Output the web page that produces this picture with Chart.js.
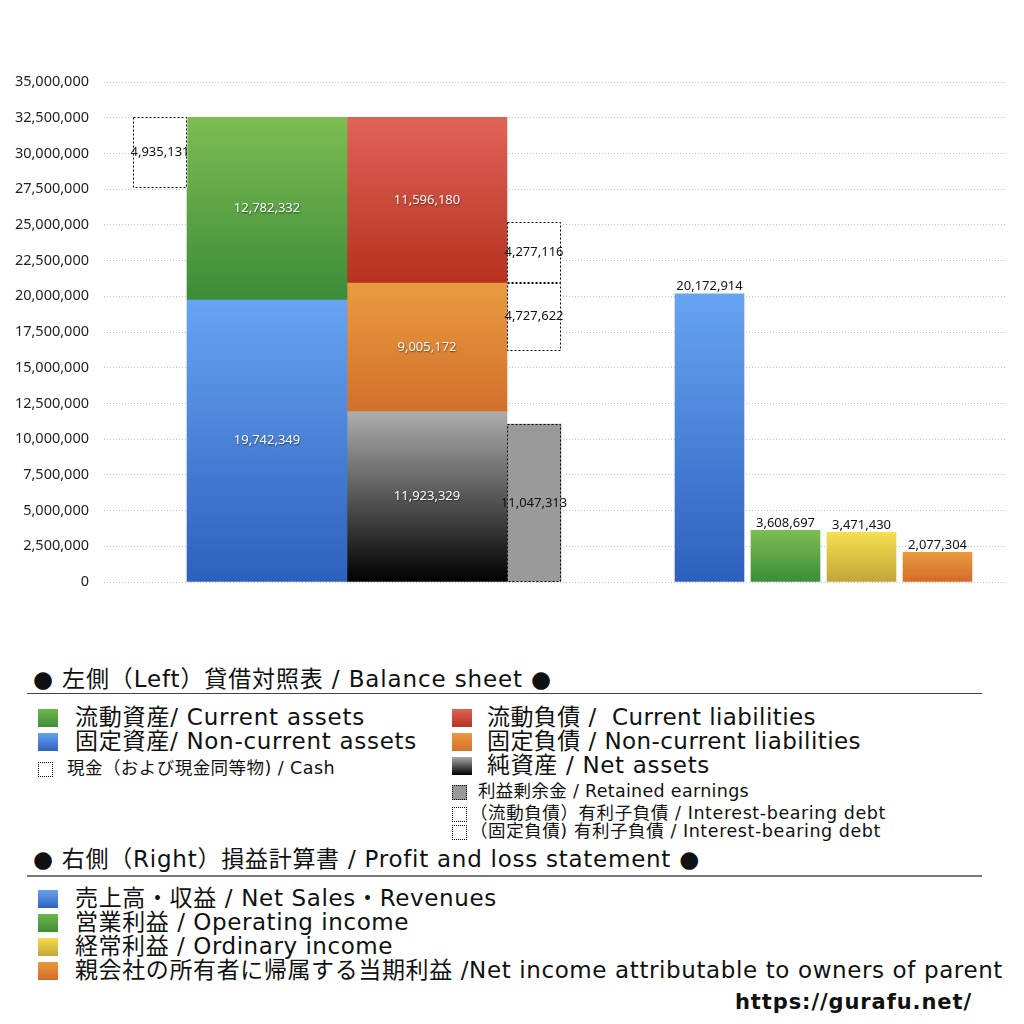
<!DOCTYPE html>
<html><head><meta charset="utf-8">
<script src="https://cdn.jsdelivr.net/npm/chart.js@4"></script>
<style>
html,body{margin:0;padding:0;background:#fff;}
body{width:1024px;height:1024px;position:relative;overflow:hidden;font-family:"DejaVu Sans","Noto Sans CJK JP",sans-serif;color:#111;}
#wrap{position:absolute;left:0;top:0;width:1024px;height:640px;}
.t{position:absolute;white-space:nowrap;line-height:1;}
.big{font-size:23px;height:23px;}
.small{font-size:17.5px;height:18px;}
.mk{position:absolute;width:20px;height:18px;}
.dm{position:absolute;width:13px;height:13px;border:1px dotted #000;background:#fff;}
.hr{position:absolute;left:27px;width:955px;height:0;}
</style></head>
<body>
<div id="wrap"><canvas id="c"></canvas></div>

<div class="t big" data-r="552" style="left:33px;top:668px;">● 左側（Left）貸借対照表 / Balance sheet ●</div>
<div class="hr" style="top:693px;border-top:1.5px solid #444;"></div>

<div class="mk" style="left:38px;top:709px;background:linear-gradient(#6fb54c,#3f8e3a);"></div>
<div class="t big" data-r="365" style="left:75px;top:706px;">流動資産/ Current assets</div>
<div class="mk" style="left:38px;top:733px;background:linear-gradient(#66a3f0,#2e62c0);"></div>
<div class="t big" data-r="417" style="left:75px;top:730px;">固定資産/ Non-current assets</div>
<div class="dm" style="left:38px;top:762px;"></div>
<div class="t small" data-r="335" style="left:67px;top:760px;">現金（および現金同等物) / Cash</div>

<div class="mk" style="left:452px;top:709px;background:linear-gradient(#de6257,#b8321f);"></div>
<div class="t big" data-r="816" style="left:487px;top:706px;">流動負債 /&nbsp; Current liabilities</div>
<div class="mk" style="left:452px;top:733px;background:linear-gradient(#e99a40,#d4702a);"></div>
<div class="t big" data-r="861" style="left:487px;top:730px;">固定負債 / Non-current liabilities</div>
<div class="mk" style="left:452px;top:757px;background:linear-gradient(#aaaaaa,#000000);"></div>
<div class="t big" data-r="710" style="left:487px;top:754px;">純資産 / Net assets</div>
<div class="dm" style="left:452px;top:785px;background:#999;"></div>
<div class="t small" data-r="749" style="left:478px;top:783px;">利益剰余金 / Retained earnings</div>
<div class="dm" style="left:452px;top:807px;"></div>
<div class="t small" data-r="886" style="left:470px;top:805px;">（流動負債）有利子負債 / Interest-bearing debt</div>
<div class="dm" style="left:452px;top:825px;"></div>
<div class="t small" data-r="881" style="left:470px;top:823px;">（固定負債) 有利子負債 / Interest-bearing debt</div>

<div class="t big" data-r="700" style="left:33px;top:848px;">● 右側（Right）損益計算書 / Profit and loss statement ●</div>
<div class="hr" style="top:875px;border-top:2px solid #777;"></div>

<div class="mk" style="left:38px;top:890px;background:linear-gradient(#66a3f0,#2e62c0);"></div>
<div class="t big" data-r="497" style="left:75px;top:887px;">売上高・収益 / Net Sales・Revenues</div>
<div class="mk" style="left:38px;top:914px;background:linear-gradient(#6fb54c,#3f8e3a);"></div>
<div class="t big" data-r="409" style="left:75px;top:911px;">営業利益 / Operating income</div>
<div class="mk" style="left:38px;top:938px;background:linear-gradient(#f3dc4c,#c4a63a);"></div>
<div class="t big" data-r="393" style="left:75px;top:935px;">経常利益 / Ordinary income</div>
<div class="mk" style="left:38px;top:962px;background:linear-gradient(#e89a3c,#d46a2a);"></div>
<div class="t big" data-r="1003" style="left:75px;top:959px;">親会社の所有者に帰属する当期利益 /Net income attributable to owners of parent</div>

<div class="t" data-r="972" style="left:735px;top:992px;font-size:21px;font-weight:bold;">https://gurafu.net/</div>

<script>
// ---- data ----
const bsAssetLabels = ['流動資産', '固定資産'];
const bsAssetValues = [12782332, 19742349];          // current, non-current
const bsCashValue = [4935131];
const bsClaimLabels = ['流動負債', '固定負債', '純資産'];
const bsClaimValues = [11596180, 9005172, 11923329];   // current liab, non-current liab, net assets
const bsRetainedEarnings = [11047313];
const bsDebtLabels = ['(流動負債) 有利子負債', '(固定負債) 有利子負債'];
const bsDebtValues = [4277116, 4727622];               // current, non-current interest-bearing debt
const plLabels = ['売上高・収益', '営業利益', '経常利益', '親会社の所有者に帰属する当期利益'];
const plValues = [20172914, 3608697, 3471430, 2077304];
const yMax = 35000000;
const yStep = 2500000;

// ---- fit legend text widths ----
function fitTexts() {
  document.querySelectorAll('.t[data-r]').forEach((el) => {
    el.style.letterSpacing = '0px';
    const left = parseFloat(el.style.left);
    const w = el.getBoundingClientRect().width;
    const n = [...el.textContent].length;
    const need = parseFloat(el.dataset.r) - left;
    el.style.letterSpacing = ((need - w) / n).toFixed(3) + 'px';
  });
}
fitTexts();
if (document.fonts && document.fonts.ready) document.fonts.ready.then(fitTexts);

// ---- layout (hidden linear x axis, units = px from plot left) ----
const COL = {cash: 56, assets: 163, claims: 323, debt: 430, pl: [605.5, 681.5, 757.5, 833.5]};
const W = {narrow: 54, wide: 160, pl: 69};
const FONT = '"Noto Sans","Noto Sans CJK JP",sans-serif';

function grad(c1, c2) {
  return (context) => {
    const chart = context.chart;
    const {ctx, chartArea, scales} = chart;
    if (!chartArea || !context.raw) return c2;
    const yS = scales.y;
    const top = yS.getPixelForValue(context.raw.y[1]);
    const bot = yS.getPixelForValue(context.raw.y[0]);
    const g = ctx.createLinearGradient(0, top, 0, bot);
    g.addColorStop(0, c1); g.addColorStop(1, c2);
    return g;
  };
}
const G = {
  blue: grad('#67a4f2', '#2d60bd'),
  green: grad('#7dbd52', '#3c8c39'),
  red: grad('#df6458', '#b7311e'),
  orange: grad('#e99b40', '#d2702b'),
  black: grad('#adadad', '#000000'),
  yellow: grad('#f5e04e', '#c3a43a'),
  orange2: grad('#e99b3e', '#d36b2a')
};
const plFills = [G.blue, G.green, G.yellow, G.orange2];

const [ca, nca] = bsAssetValues;
const [cl, ncl, na] = bsClaimValues;
const [cDebt, ncDebt] = bsDebtValues;
const assetsTop = nca + ca;
const nclTop = na + ncl;

function ds(label, x, lo, v, color, thick, kind, extra) {
  return Object.assign({
    label, data: [{x, y: [lo, lo + v], v}], backgroundColor: color,
    barThickness: thick, borderWidth: 0, stack: 'all', kind
  }, extra || {});
}

const datasets = [
  ds('現金', COL.cash, assetsTop - bsCashValue[0], bsCashValue[0], '#ffffff', W.narrow, 'dark', {dotted: true}),
  ds(bsAssetLabels[1], COL.assets, 0, nca, G.blue, W.wide, 'inside'),
  ds(bsAssetLabels[0], COL.assets, nca, ca, G.green, W.wide, 'inside'),
  ds(bsClaimLabels[2], COL.claims, 0, na, G.black, W.wide, 'inside'),
  ds(bsClaimLabels[1], COL.claims, na, ncl, G.orange, W.wide, 'inside'),
  ds(bsClaimLabels[0], COL.claims, nclTop, cl, G.red, W.wide, 'inside'),
  ds('利益剰余金', COL.debt, 0, bsRetainedEarnings[0], '#9a9a9a', W.narrow, 'dark', {dotted: true}),
  ds(bsDebtLabels[1], COL.debt, nclTop - ncDebt, ncDebt, '#ffffff', W.narrow, 'dark', {dotted: true}),
  ds(bsDebtLabels[0], COL.debt, nclTop, cDebt, '#ffffff', W.narrow, 'dark', {dotted: true}),
  {
    label: 'PL', stack: 'all', kind: 'above', barThickness: W.pl, borderWidth: 0,
    data: plValues.map((v, i) => ({x: COL.pl[i], y: [0, v], v, name: plLabels[i]})),
    backgroundColor: (c) => plFills[c.dataIndex] ? plFills[c.dataIndex](c) : '#888'
  }
];

const labelPlugin = {
  id: 'valueLabels',
  afterDatasetsDraw(chart) {
    const ctx = chart.ctx;
    chart.data.datasets.forEach((d, i) => {
      if (!d.dotted) return;
      chart.getDatasetMeta(i).data.forEach((el) => {
        const {x, y, base, width} = el.getProps(['x', 'y', 'base', 'width'], true);
        const top = Math.round(Math.min(y, base)), bot = Math.round(Math.max(y, base));
        const l = Math.round(x - width / 2), r = Math.round(x + width / 2);
        ctx.save();
        ctx.setLineDash([2, 2]);
        ctx.strokeStyle = '#000';
        ctx.lineWidth = 1;
        ctx.strokeRect(l + 0.5, top + 0.5, r - l - 1, bot - top - 1);
        ctx.restore();
      });
    });
    chart.data.datasets.forEach((d, i) => {
      chart.getDatasetMeta(i).data.forEach((el, j) => {
        const {x, y, base} = el.getProps(['x', 'y', 'base'], true);
        const top = Math.min(y, base), bot = Math.max(y, base);
        const txt = d.data[j].v.toLocaleString('en-US');
        ctx.save();
        ctx.font = '13px ' + FONT;
        ctx.textAlign = 'center';
        if (d.kind === 'inside') {
          ctx.textBaseline = 'middle';
          ctx.fillStyle = '#ffffff';
          ctx.shadowColor = 'rgba(0,0,0,0.55)';
          ctx.shadowBlur = 1.5; ctx.shadowOffsetX = 0.5; ctx.shadowOffsetY = 1;
          ctx.fillText(txt, x, (top + bot) / 2);
        } else if (d.kind === 'dark') {
          ctx.textBaseline = 'middle';
          ctx.fillStyle = '#111';
          ctx.fillText(txt, x, (top + bot) / 2);
        } else {
          ctx.textBaseline = 'bottom';
          ctx.fillStyle = '#111';
          ctx.fillText(txt, x, top - 1);
        }
        ctx.restore();
      });
    });
  }
};

new Chart(document.getElementById('c'), {
  type: 'bar',
  data: {datasets},
  plugins: [labelPlugin],
  options: {
    responsive: true, maintainAspectRatio: false, animation: false,
    layout: {padding: {left: 0, right: 19, top: 82, bottom: 58}},
    plugins: {legend: {display: false}, tooltip: {enabled: false}},
    scales: {
      x: {type: 'linear', min: 0, max: 901, display: false, stacked: true, offset: false, grid: {display: false}},
      y: {
        min: 0, max: yMax, stacked: false,
        ticks: {stepSize: yStep, padding: 15, color: '#222', font: {size: 14.5, family: FONT},
          callback: (v) => Number(v).toLocaleString('en-US')},
        grid: {color: '#c4c4c4', drawTicks: false, lineWidth: 1},
        border: {display: false, dash: [1, 2]},
        afterFit: (s) => { s.width = 104; }
      }
    }
  }
});
</script>
</body></html>
